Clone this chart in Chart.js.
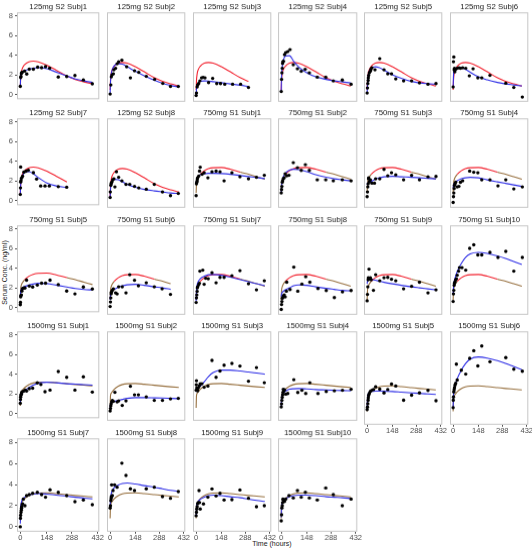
<!DOCTYPE html>
<html>
<head>
<meta charset="utf-8">
<script src="https://cdn.jsdelivr.net/npm/chart.js@4.4.1/dist/chart.umd.min.js"></script>
<style>
    body { margin: 0; background: #fff; }
    #wrap { position: relative; width: 532px; height: 550px; font-family: "Liberation Sans", Arial, sans-serif; }
    .panel { position: absolute; }
    .ytitle { position: absolute; left: -46px; top: 268px; width: 100px; height: 9px; line-height: 9px;
        text-align: center; transform: rotate(-90deg); font-size: 7px; color: #1a1a1a; white-space: nowrap; }
    .xtitle { position: absolute; left: 222px; top: 540px; width: 100px; text-align: center; font-size: 7px; color: #1a1a1a; }
</style>
</head>
<body>
<div id="wrap">
    <div class="ytitle">Serum Conc. (ng/ml)</div>
    <div class="xtitle">Time (hours)</div>
</div>
<script>
const titles = ['125mg S2 Subj1', '125mg S2 Subj2', '125mg S2 Subj3', '125mg S2 Subj4', '125mg S2 Subj5', '125mg S2 Subj6',
    '125mg S2 Subj7', '125mg S2 Subj8', '750mg S1 Subj1', '750mg S1 Subj2', '750mg S1 Subj3', '750mg S1 Subj4',
    '750mg S1 Subj5', '750mg S1 Subj6', '750mg S1 Subj7', '750mg S1 Subj8', '750mg S1 Subj9', '750mg S1 Subj10',
    '1500mg S1 Subj1', '1500mg S1 Subj2', '1500mg S1 Subj3', '1500mg S1 Subj4', '1500mg S1 Subj5', '1500mg S1 Subj6',
    '1500mg S1 Subj7', '1500mg S1 Subj8', '1500mg S1 Subj9', '1500mg S1 Subj10'];

// observed sampling times (hours), one list per subject
const obsT = [
    [0,2,4,6,8,12,24,36,50,73,97,119,141,164,212,259,305,352,402],
    [0,4,7,11,19,22,32,41,50,69,97,119,143,168,212,261,309,354,400],
    [0,2,6,9,15,22,32,41,52,73,97,121,143,168,214,261,307],
    [0,2,4,6,8,10,13,19,26,38,51,70,94,116,139,163,209,258,302,354,405],
    [0,2,4,6,7,9,13,19,22,28,46,74,99,121,143,168,214,261,307,357,404],
    [0,2,4,6,8,10,15,24,34,43,56,74,95,117,145,168,216,309,356,406],
    [0,1,2,2,4,7,13,20,32,45,73,91,114,138,162,212,259],
    [0,1,4,6,7,11,15,22,28,37,50,69,93,115,143,168,212,259,307,354,400],
    [0,2,4,6,7,9,15,20,24,35,47,69,93,117,140,164,210,257,307,354,400],
    [0,2,4,6,8,12,17,23,32,45,70,94,116,140,163,209,258,302,354,405],
    [0,2,4,6,8,9,13,19,28,43,50,74,99,121,143,168,214,261,307,357,404],
    [0,2,4,6,8,11,15,24,34,43,56,97,121,145,168,216,263,309,356,406],
    [0,1,2,4,6,9,13,20,26,35,50,69,95,119,141,166,212,259,305,352,402],
    [0,2,4,6,7,11,15,19,32,41,50,71,93,115,143,166,212,259,305,354],
    [0,2,4,6,7,9,15,19,22,39,47,56,71,93,117,140,164,210,257,307,354,400],
    [0,2,4,6,10,13,17,23,30,32,51,73,96,120,142,166,213,261,308,355,405],
    [0,2,4,6,7,9,11,15,19,24,37,50,74,99,121,143,168,214,261,307,357,404],
    [0,2,4,6,8,11,15,19,24,32,37,52,74,97,121,145,168,216,263,309,356,406],
    [0,1,2,4,6,9,13,20,28,35,50,69,95,115,138,166,212,259,305,352,402],
    [0,2,4,6,9,13,19,28,41,50,71,93,119,143,166,212,259,307,354,400],
    [0,1,2,4,6,9,13,19,24,34,47,69,93,117,140,164,210,257,307,354,400],
    [0,2,4,6,8,10,12,15,19,26,38,73,96,120,142,166,213,261,308,355,405],
    [0,2,4,6,7,9,13,19,28,37,50,74,99,121,143,168,214,261,307,357,404],
    [0,1,2,4,6,8,11,15,19,24,48,74,97,121,145,168,216,309,356,406],
    [0,1,2,4,6,7,9,13,17,26,35,50,69,95,119,141,166,212,259,305,352,402],
    [0,2,4,6,7,9,13,17,26,41,69,93,119,143,212,259,307,354,400],
    [0,2,4,6,9,13,17,20,24,43,69,93,117,140,164,210,257,307,354,400],
    [0,2,4,6,8,10,13,19,26,45,70,94,116,140,163,209,258,302,354,405]
];

// observed serum concentrations (ng/ml)
const obsC = [
    [0.85,1.75,1.85,2.15,2.25,2.3,2.4,2.1,2.6,2.6,2.8,2.75,2.85,2.7,1.8,1.85,1.95,1.5,1.1],
    [0.3,1.2,2.0,2.2,2.3,2.7,2.85,3.3,3.5,3.65,3.0,1.9,2.6,2.45,2.05,1.75,1.35,1.05,1.05],
    [0.15,0.4,1.0,1.2,1.33,1.6,1.9,1.95,1.9,1.43,1.85,1.33,1.33,1.27,1.27,1.27,0.95],
    [0.55,1.75,2.4,2.85,3.33,3.5,3.55,4.2,4.4,4.5,4.7,3.2,2.8,2.55,2.75,2.4,1.97,1.97,1.6,1.68,1.27],
    [0.4,0.9,1.33,1.65,1.9,2.15,2.4,2.55,2.73,2.9,2.7,3.8,2.7,2.3,2.3,1.8,1.6,1.6,1.4,1.27,1.33],
    [1.0,3.5,3.97,2.7,2.85,2.5,2.75,2.85,2.9,2.85,2.9,2.85,2.1,2.8,1.9,1.9,2.15,1.37,0.95,0.0],
    [0.63,1.3,3.43,1.9,2.06,2.3,2.5,2.9,3.0,3.1,2.85,2.2,1.5,1.5,1.5,1.43,1.37],
    [0.55,1.1,1.75,1.9,2.0,2.1,2.3,2.4,1.6,3.1,2.55,2.2,1.85,1.85,1.65,1.5,1.37,1.85,1.1,0.73,0.95],
    [0.73,1.9,2.06,2.2,2.4,2.5,2.67,3.17,3.55,2.85,3.0,2.5,3.1,3.17,3.1,2.2,3.0,2.6,2.4,2.55,2.75],
    [1.0,1.33,1.65,2.06,2.2,2.4,2.5,2.9,2.7,2.75,4.0,3.5,3.24,3.8,3.24,2.3,2.3,2.2,2.3,2.2],
    [0.63,1.1,1.6,1.9,2.4,2.5,2.1,2.3,1.97,1.97,2.4,2.4,3.33,2.7,3.0,2.8,2.3,2.75,2.3,2.6,2.63],
    [0.06,0.63,1.0,1.43,1.75,1.9,2.06,1.6,1.65,2.06,2.2,3.17,3.05,3.0,2.3,2.3,1.7,2.3,1.4,1.6],
    [0.3,0.55,1.1,1.25,1.3,1.7,1.95,2.0,2.0,2.8,2.2,2.1,2.3,2.5,2.5,2.8,2.35,1.7,1.4,2.1,1.9],
    [0.35,0.8,1.2,1.6,1.75,1.9,2.0,2.1,1.7,1.6,2.3,2.3,1.7,3.5,2.95,2.4,2.7,2.3,2.1,1.55],
    [0.75,1.2,1.5,1.85,2.2,2.3,2.5,2.65,3.85,3.95,2.55,3.15,3.1,3.7,2.7,3.24,3.24,3.4,3.9,2.6,2.0,2.9],
    [0.06,0.55,0.85,1.17,1.25,1.4,1.5,1.3,1.87,2.76,2.03,4.25,1.87,2.57,3.3,2.76,2.13,1.94,1.24,1.8,1.94],
    [0.92,1.55,2.3,3.0,3.2,3.05,4.05,3.08,3.2,3.0,1.95,3.5,2.9,3.2,3.24,3.05,2.9,2.1,2.35,2.76,1.7,2.0],
    [0.85,1.6,1.95,2.45,2.67,2.8,3.0,3.1,3.45,3.85,4.2,4.2,3.95,6.1,6.45,5.46,5.46,5.7,5.2,5.8,3.85,5.2],
    [1.05,1.45,1.7,1.9,2.0,2.2,2.25,2.3,2.4,2.3,2.55,2.6,3.13,2.97,2.24,2.4,4.3,3.7,2.4,3.75,2.2],
    [0.5,0.75,1.0,1.2,1.4,1.55,1.45,2.35,1.4,1.5,1.05,1.5,2.95,2.1,2.1,1.9,1.55,1.55,1.7,1.75],
    [2.55,3.1,3.5,2.8,2.65,2.5,2.8,3.0,3.2,3.2,2.85,2.97,5.5,3.83,4.46,5.03,5.2,4.95,3.45,4.8,3.3],
    [0.9,1.2,1.55,1.85,2.1,2.35,2.65,2.5,2.6,2.17,2.24,3.6,2.33,2.55,2.24,3.3,2.24,2.43,2.5,2.55,2.65],
    [0.97,1.22,1.53,1.85,2.1,2.33,2.5,2.7,2.8,2.87,3.13,2.9,2.55,2.87,3.38,3.2,1.85,2.33,2.55,2.78,1.8],
    [1.15,1.85,2.17,2.65,2.87,3.06,3.3,3.45,5.28,3.76,4.7,4.33,5.82,6.55,5.1,7.0,5.5,5.9,4.8,4.6],
    [0.0,0.8,1.1,1.37,1.6,1.78,1.94,2.16,2.63,2.0,2.95,3.05,3.17,3.27,3.05,2.8,3.5,3.27,2.95,2.38,2.54,2.1],
    [1.78,2.0,2.48,2.7,2.86,3.97,2.95,3.43,3.97,3.75,6.03,4.86,3.6,3.43,3.6,3.75,2.86,2.7,3.33],
    [1.05,1.37,1.68,1.9,2.2,2.3,3.43,2.3,1.68,2.16,2.8,3.59,2.92,3.17,2.54,2.57,3.49,2.7,1.9,2.0],
    [0.57,1.14,1.78,2.0,2.3,2.63,2.54,2.4,2.63,2.95,2.73,3.43,2.8,3.27,2.73,2.54,3.68,3.05,2.0,2.63]
];

// model curves are given at these times
const fitT = [0,2,6,12,24,48,72,100,148,200,260,307,355,403];

// individual fit (blue)
const indFit = [
    [0.8,1.9,2.2,2.35,2.45,2.6,2.7,2.75,2.65,2.3,1.9,1.6,1.4,1.25],
    [0.4,1.4,2.2,2.7,3.1,3.3,3.25,3.0,2.55,2.1,1.65,1.35,1.15,1.0],
    [0.2,0.8,1.2,1.4,1.55,1.6,1.58,1.52,1.42,1.3,1.17,1.05],
    [0.5,2.0,3.0,3.6,4.05,4.1,3.55,3.0,2.4,2.0,1.75,1.6,1.5,1.4],
    [0.4,1.3,2.1,2.55,2.85,3.0,2.9,2.65,2.2,1.85,1.55,1.4,1.32,1.27],
    [0.9,2.1,2.6,2.8,2.9,2.9,2.75,2.45,2.0,1.7,1.45,1.3,1.2,1.1],
    [0.6,1.6,2.2,2.55,2.85,2.95,2.75,2.35,1.8,1.5,1.35],
    [0.5,1.3,1.9,2.2,2.35,2.3,2.1,1.85,1.55,1.35,1.2,1.1,1.0,0.95],
    [1.9,2.2,2.5,2.65,2.8,2.9,2.95,2.95,2.92,2.85,2.72,2.62,2.52,2.42],
    [0.9,1.7,2.2,2.6,2.95,3.25,3.35,3.3,3.1,2.8,2.55,2.4,2.3,2.2],
    [1.8,1.95,2.0,2.05,2.15,2.35,2.5,2.6,2.65,2.6,2.55,2.5,2.45,2.4],
    [1.5,1.8,1.95,2.05,2.2,2.4,2.5,2.55,2.5,2.3,2.1,1.95,1.8,1.65],
    [1.0,1.6,1.9,2.05,2.15,2.3,2.4,2.48,2.45,2.3,2.1,1.95,1.85,1.8],
    [1.0,1.5,1.8,1.95,2.05,2.25,2.4,2.5,2.55,2.45,2.3,2.2,2.05],
    [0.9,1.9,2.5,2.8,3.1,3.35,3.5,3.52,3.45,3.25,3.0,2.8,2.6,2.4],
    [1.3,1.6,1.75,1.85,2.0,2.2,2.4,2.48,2.45,2.3,2.15,2.05,1.95,1.9],
    [2.6,2.9,3.0,3.05,3.02,2.95,2.85,2.75,2.6,2.45,2.3,2.2,2.1,2.0],
    [1.5,2.2,2.8,3.2,3.8,4.6,5.2,5.55,5.7,5.6,5.35,5.1,4.8,4.5],
    [1.0,1.7,2.0,2.15,2.35,2.65,2.9,3.1,3.2,3.15,3.05,3.0,2.95,2.9],
    [0.7,1.2,1.35,1.4,1.45,1.55,1.65,1.75,1.82,1.82,1.8,1.78,1.75,1.72],
    [2.4,2.6,2.7,2.8,2.95,3.4,3.9,4.3,4.55,4.55,4.45,4.35,4.25,4.15],
    [1.0,1.8,2.2,2.3,2.45,2.65,2.7,2.72,2.68,2.62,2.58,2.55,2.52,2.5],
    [1.0,2.0,2.45,2.6,2.68,2.72,2.72,2.7,2.68,2.62,2.55,2.5,2.45,2.4],
    [1.2,2.2,2.9,3.3,3.9,4.7,5.3,5.75,5.95,5.85,5.6,5.35,5.05,4.75],
    [0.3,1.7,2.3,2.6,2.8,3.0,3.1,3.15,3.1,3.0,2.9,2.8,2.72,2.65],
    [1.8,2.6,3.1,3.4,3.7,3.95,4.1,4.15,4.05,3.9,3.75,3.6,3.45,3.35],
    [1.0,1.8,2.2,2.4,2.6,2.8,2.95,3.0,2.95,2.85,2.75,2.62,2.5,2.4],
    [0.9,1.9,2.3,2.5,2.65,2.85,2.95,3.0,3.0,2.95,2.85,2.8,2.75,2.68]
];

// population fit per dose (red / brown)
const pop125 = [0.7,1.6,2.3,2.7,3.05,3.35,3.42,3.35,3.0,2.5,1.9,1.55,1.3,1.1];
const pop750 = [1.0,1.9,2.3,2.55,2.85,3.2,3.4,3.5,3.52,3.35,3.05,2.85,2.6,2.35];
const pop1500 = [0.8,2.0,2.25,2.4,2.65,2.95,3.12,3.2,3.22,3.15,3.05,2.97,2.9,2.83];

const xTicks = [0, 148, 288, 432];
const yTicks = [0, 2, 4, 6, 8];

const BLUE = '#2f2fe6';
const RED = '#f2222f';
const BROWN = '#97703f';
const FONT = '"Liberation Sans", Arial, sans-serif';

// panel grid (px)
const N_COL = 6;
const PANEL_W = 82.25, PANEL_H = 92.5;
const TITLE_H = 10.26;

// light grey frame round each panel
const framePlugin = {
    id: 'frame',
    afterDatasetsDraw(chart) {
        let a = chart.chartArea;
        let c = chart.ctx;
        c.save();
        c.strokeStyle = '#c6c6c6';
        c.lineWidth = 1;
        c.strokeRect(a.left + 0.5, a.top + 0.5, a.width - 1, a.height - 1);
        c.restore();
    }
};

function popColor(group, t) {
    if (group === '125mg') return RED;
    if (group === '750mg') return (t > 28 && t < 250) ? RED : BROWN;
    return BROWN;
}

function draw_panel(i) {
    let col = i % N_COL;
    let row = Math.floor(i / N_COL);
    let showY = col === 0;
    let showX = i + N_COL >= titles.length;
    let yw = showY ? 17 : 0;
    let xh = showX ? 12 : 0;
    let fl = 17 + col * 85.75;
    let ft = 12 + row * 106.5;

    let box = document.createElement('div');
    box.className = 'panel';
    box.style.left = (fl - yw) + 'px';
    box.style.top = (ft - TITLE_H) + 'px';
    box.style.width = (yw + PANEL_W + 5) + 'px';
    box.style.height = (TITLE_H + PANEL_H + xh) + 'px';
    document.querySelector('#wrap').appendChild(box);
    let canvas = document.createElement('canvas');
    box.appendChild(canvas);

    let group = titles[i].split(' ')[0];
    let pop = group === '125mg' ? pop125 : (group === '750mg' ? pop750 : pop1500);
    let ind = indFit[i];

    let data = {
        datasets: [
            {
                label: 'obs',
                data: obsT[i].map((t, k) => ({x: t, y: obsC[i][k]})),
                showLine: false,
                pointRadius: 1.7,
                pointBackgroundColor: '#000',
                pointBorderWidth: 0,
                order: 0
            },
            {
                label: 'ipred',
                data: ind.map((v, k) => ({x: fitT[k], y: v})),
                showLine: true,
                borderColor: BLUE,
                borderWidth: 1.1,
                pointRadius: 0,
                cubicInterpolationMode: 'monotone',
                order: 1
            },
            {
                label: 'pred',
                data: pop.slice(0, ind.length).map((v, k) => ({x: fitT[k], y: v})),
                showLine: true,
                borderColor: popColor(group, 100),
                segment: {
                    borderColor: ctx => popColor(group, (ctx.p0.parsed.x + ctx.p1.parsed.x) / 2)
                },
                borderWidth: 1.1,
                pointRadius: 0,
                cubicInterpolationMode: 'monotone',
                order: 2
            }
        ]
    };

    let config = {
        type: 'scatter',
        data: data,
        plugins: [framePlugin],
        options: {
            responsive: true,
            maintainAspectRatio: false,
            animation: false,
            events: [],
            layout: { padding: { left: 0, right: 5, top: 0, bottom: 0 } },
            plugins: {
                legend: { display: false },
                tooltip: { enabled: false },
                title: {
                    display: true,
                    text: titles[i],
                    fullSize: false,
                    color: '#1a1a1a',
                    font: { size: 7.8, family: FONT, weight: 'normal' },
                    padding: { top: 0, bottom: 0.9 }
                }
            },
            scales: {
                x: {
                    type: 'linear',
                    min: -18.4,
                    max: 441,
                    afterBuildTicks: s => { s.ticks = xTicks.map(v => ({value: v})); },
                    afterFit: s => { s.height = xh; },
                    border: { display: false },
                    grid: { display: showX, drawOnChartArea: false, drawTicks: true, tickLength: 2, color: '#555' },
                    ticks: { display: showX, padding: 0, maxRotation: 0, autoSkip: false, color: '#4d4d4d',
                        font: { size: 7.5, family: FONT } }
                },
                y: {
                    type: 'linear',
                    min: -0.47,
                    max: 8.38,
                    afterBuildTicks: s => { s.ticks = yTicks.map(v => ({value: v})); },
                    afterFit: s => { s.width = yw; },
                    border: { display: false },
                    grid: { display: showY, drawOnChartArea: false, drawTicks: true, tickLength: 2, color: '#555' },
                    ticks: { display: showY, padding: 2, color: '#4d4d4d', font: { size: 7.5, family: FONT } }
                }
            }
        }
    };

    new Chart(canvas.getContext('2d'), config);
}

for (let i = 0; i < titles.length; i++) {
    draw_panel(i);
}
</script>
</body>
</html>
